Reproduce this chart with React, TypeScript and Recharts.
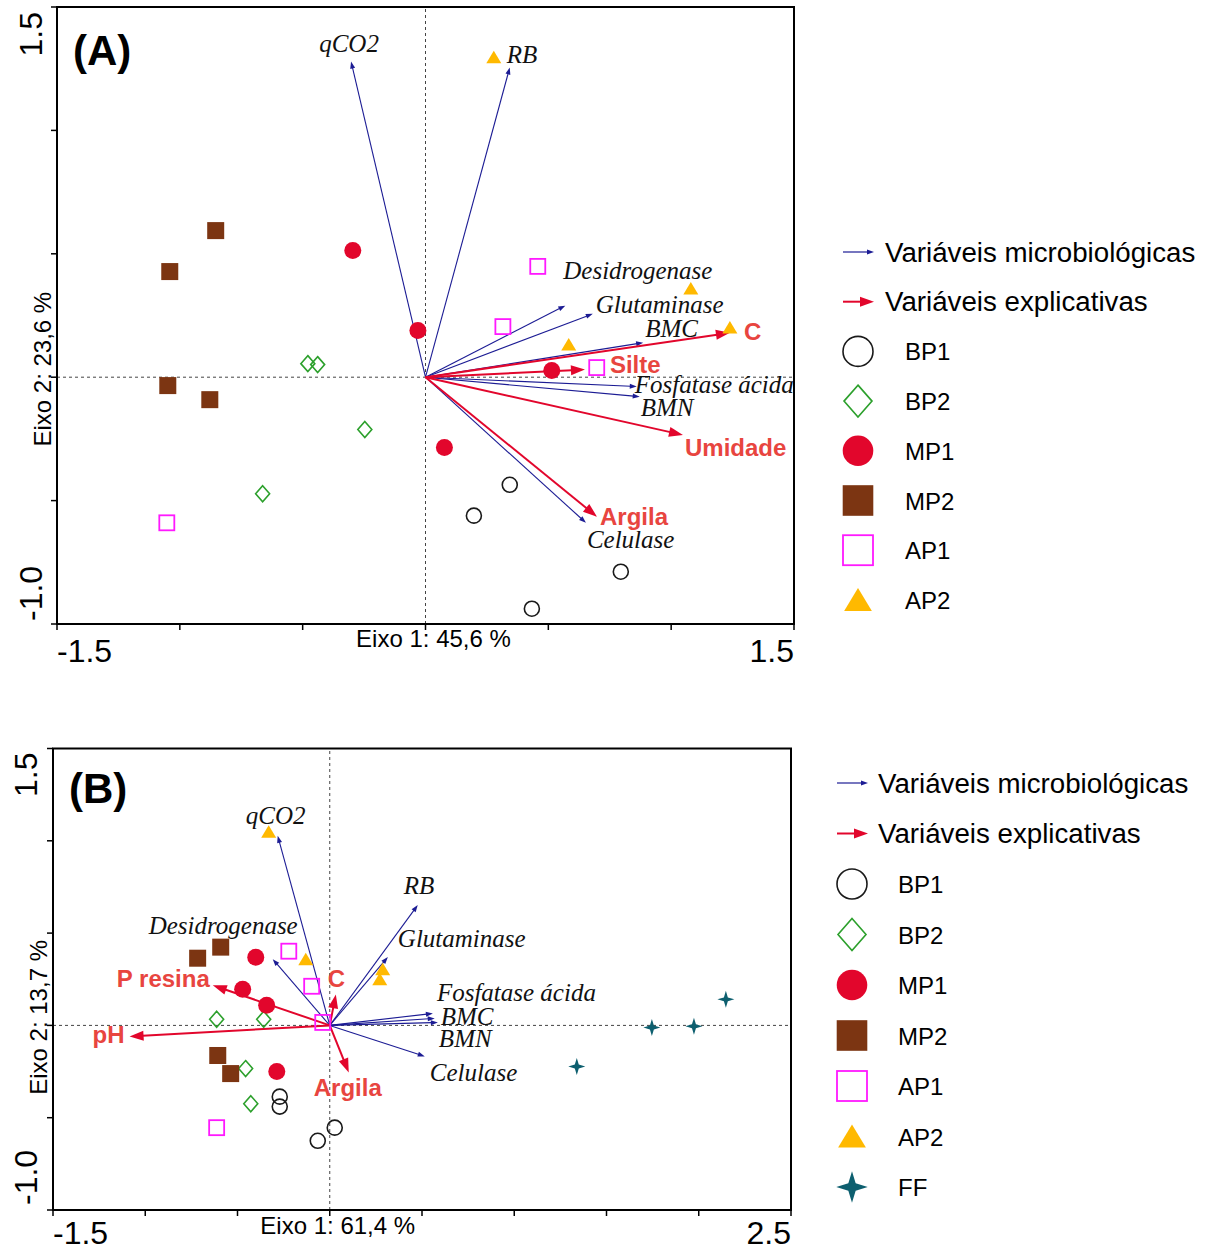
import React from 'react';
import { ScatterChart, Scatter, XAxis, YAxis, ReferenceLine, ReferenceArea, Label } from 'recharts';

const SANS = "'Liberation Sans', Arial, Helvetica, sans-serif";
const SERIF = "'Liberation Serif', 'Times New Roman', serif";
const NAVY = '#1c1c94';
const RED = '#e2062c';
const RED_TEXT = '#e8453f';
const BROWN = '#7c3512';
const MAGENTA = '#ff19ff';
const GOLD = '#ffb900';
const GREEN = '#2ca02c';
const TEAL = '#0d5f6f';
const BLACK = '#1a1a1a';

// ---------------- Panel A data ----------------
const A_BP1 = [{ x: 0.343, y: -0.436 }, { x: 0.197, y: -0.561 }, { x: 0.795, y: -0.788 }, { x: 0.433, y: -0.938 }];
const A_BP2 = [{ x: -0.479, y: 0.055 }, { x: -0.439, y: 0.051 }, { x: -0.247, y: -0.212 }, { x: -0.663, y: -0.472 }];
const A_MP1 = [{ x: -0.296, y: 0.513 }, { x: -0.031, y: 0.189 }, { x: 0.514, y: 0.027 }, { x: 0.077, y: -0.285 }];
const A_MP2 = [{ x: -0.854, y: 0.594 }, { x: -1.041, y: 0.428 }, { x: -1.049, y: -0.034 }, { x: -0.878, y: -0.091 }];
const A_AP1 = [{ x: 0.457, y: 0.449 }, { x: 0.315, y: 0.205 }, { x: 0.697, y: 0.039 }, { x: -1.053, y: -0.59 }];
const A_AP2 = [{ x: 0.278, y: 1.296 }, { x: 1.08, y: 0.359 }, { x: 1.239, y: 0.201 }, { x: 0.583, y: 0.132 }];

const A_MICRO = [
  { name: 'qCO2', x: -0.303, y: 1.279 },
  { name: 'RB', x: 0.343, y: 1.255 },
  { name: 'Desidrogenase', x: 0.569, y: 0.29 },
  { name: 'Glutaminase', x: 0.681, y: 0.257 },
  { name: 'BMC', x: 0.886, y: 0.14 },
  { name: 'Fosfatase ácida', x: 0.86, y: -0.038 },
  { name: 'BMN', x: 0.872, y: -0.079 },
  { name: 'Celulase', x: 0.653, y: -0.59 },
];
const A_EXPL = [
  { name: 'C', x: 1.239, y: 0.18 },
  { name: 'Silte', x: 0.649, y: 0.031 },
  { name: 'Umidade', x: 1.048, y: -0.234 },
  { name: 'Argila', x: 0.698, y: -0.565 },
];

// ---------------- Panel B data ----------------
const B_BP1 = [{ x: -0.271, y: -0.386 }, { x: -0.271, y: -0.44 }, { x: -0.065, y: -0.625 }, { x: 0.027, y: -0.554 }];
const B_BP2 = [{ x: -0.613, y: 0.033 }, { x: -0.358, y: 0.033 }, { x: -0.456, y: -0.234 }, { x: -0.428, y: -0.424 }];
const B_MP1 = [{ x: -0.401, y: 0.369 }, { x: -0.472, y: 0.196 }, { x: -0.342, y: 0.109 }, { x: -0.287, y: -0.25 }];
const B_MP2 = [{ x: -0.716, y: 0.364 }, { x: -0.591, y: 0.424 }, { x: -0.607, y: -0.163 }, { x: -0.537, y: -0.261 }];
const B_AP1 = [{ x: -0.222, y: 0.402 }, { x: -0.098, y: 0.212 }, { x: -0.038, y: 0.016 }, { x: -0.613, y: -0.554 }];
const B_AP2 = [{ x: -0.331, y: 1.049 }, { x: -0.13, y: 0.359 }, { x: 0.287, y: 0.304 }, { x: 0.271, y: 0.25 }];
const B_FF = [{ x: 1.339, y: -0.223 }, { x: 1.746, y: -0.011 }, { x: 1.974, y: -0.005 }, { x: 2.147, y: 0.141 }];

const B_MICRO = [
  { name: 'qCO2', x: -0.282, y: 1.027 },
  { name: 'RB', x: 0.477, y: 0.652 },
  { name: 'Desidrogenase', x: -0.309, y: 0.359 },
  { name: 'Glutaminase', x: 0.315, y: 0.37 },
  { name: 'Fosfatase ácida', x: 0.559, y: 0.065 },
  { name: 'BMC', x: 0.569, y: 0.038 },
  { name: 'BMN', x: 0.586, y: 0.016 },
  { name: 'Celulase', x: 0.515, y: -0.168 },
];
const B_EXPL = [
  { name: 'pH', x: -1.085, y: -0.06 },
  { name: 'P resina', x: -0.634, y: 0.217 },
  { name: 'C', x: 0.033, y: 0.168 },
  { name: 'Argila', x: 0.103, y: -0.255 },
];

// axis ticks
const A_XTICKS = [-1.5, -1, -0.5, 0, 0.5, 1, 1.5];
const A_YTICKS = [-1, -0.5, 0, 0.5, 1, 1.5];
const B_XTICKS = [-1.5, -1, -0.5, 0, 0.5, 1, 1.5, 2, 2.5];
const B_YTICKS = [-1, -0.5, 0, 0.5, 1, 1.5];

const LEGEND_A = ['BP1', 'BP2', 'MP1', 'MP2', 'AP1', 'AP2'];
const LEGEND_B = ['BP1', 'BP2', 'MP1', 'MP2', 'AP1', 'AP2', 'FF'];

// ---------------- label placement (pixel offsets from arrow tips) ----------------
type Lab = { dx: number; dy: number; anchor?: 'start' | 'middle' | 'end' };
const A_MICRO_LAB: Record<string, Lab> = {
  qCO2: { dx: -2, dy: -10, anchor: 'middle' },
  RB: { dx: -3, dy: -4 },
  Desidrogenase: { dx: -2, dy: -27 },
  Glutaminase: { dx: 3, dy: -1 },
  BMC: { dx: 2, dy: -6 },
  'Fosfatase ácida': { dx: -2, dy: 6 },
  BMN: { dx: 1, dy: 19 },
  Celulase: { dx: 1, dy: 25 },
};
const A_EXPL_LAB: Record<string, Lab> = {
  C: { dx: 14, dy: 7 },
  Silte: { dx: 25, dy: 3 },
  Umidade: { dx: 2, dy: 21 },
  Argila: { dx: 3, dy: 8 },
};
const B_MICRO_LAB: Record<string, Lab> = {
  qCO2: { dx: -2, dy: -12, anchor: 'middle' },
  RB: { dx: -14, dy: -11 },
  Desidrogenase: { dx: 25, dy: -25, anchor: 'end' },
  Glutaminase: { dx: 10, dy: -10 },
  'Fosfatase ácida': { dx: 4, dy: -12 },
  BMC: { dx: 6, dy: 7 },
  BMN: { dx: 1, dy: 25 },
  Celulase: { dx: 5, dy: 25 },
};
const B_EXPL_LAB: Record<string, Lab> = {
  pH: { dx: -5, dy: 7, anchor: 'end' },
  'P resina': { dx: -3, dy: 2, anchor: 'end' },
  C: { dx: -8, dy: -7 },
  Argila: { dx: -1, dy: 24, anchor: 'middle' },
};

const LEGEND_SCALE: Record<string, number> = { BP1: 2, BP2: 2, MP1: 1.8, MP2: 1.8, AP1: 2, AP2: 1.85, FF: 1.85 };

// ---------------- marker shapes ----------------
const starPts = (cx: number, cy: number, R: number, r: number) => {
  const pts: string[] = [];
  for (let i = 0; i < 8; i++) {
    const a = -Math.PI / 2 + (i * Math.PI) / 4;
    const rad = i % 2 === 0 ? R : r;
    pts.push(`${cx + rad * Math.cos(a)},${cy + rad * Math.sin(a)}`);
  }
  return pts.join(' ');
};

const drawMarker = (kind: string, cx: number, cy: number, s: number) => {
  switch (kind) {
    case 'BP1':
      return <circle cx={cx} cy={cy} r={7.5 * s} fill="none" stroke={BLACK} strokeWidth={1.6} />;
    case 'BP2':
      return (
        <polygon
          points={`${cx},${cy - 8 * s} ${cx + 7 * s},${cy} ${cx},${cy + 8 * s} ${cx - 7 * s},${cy}`}
          fill="none"
          stroke={GREEN}
          strokeWidth={1.6}
        />
      );
    case 'MP1':
      return <circle cx={cx} cy={cy} r={8.5 * s} fill={RED} />;
    case 'MP2':
      return <rect x={cx - 8.5 * s} y={cy - 8.5 * s} width={17 * s} height={17 * s} fill={BROWN} />;
    case 'AP1':
      return (
        <rect x={cx - 7.5 * s} y={cy - 7.5 * s} width={15 * s} height={15 * s} fill="none" stroke={MAGENTA} strokeWidth={1.8} />
      );
    case 'AP2':
      return <polygon points={`${cx},${cy - 6.5 * s} ${cx + 7.5 * s},${cy + 6 * s} ${cx - 7.5 * s},${cy + 6 * s}`} fill={GOLD} />;
    case 'FF':
      return <polygon points={starPts(cx, cy, 8.5 * s, 2.8 * s)} fill={TEAL} />;
    default:
      return <g />;
  }
};

const markerShape = (kind: string) => (p: any) => {
  if (typeof p.cx !== 'number' || typeof p.cy !== 'number') return <g />;
  return drawMarker(kind, p.cx, p.cy, 1);
};

// ---------------- arrow shape ----------------
function ArrowShape(props: any) {
  const { x1, y1, x2, y2, color, lw, hl, hw, text, lab, bold } = props;
  if ([x1, y1, x2, y2].some((v) => typeof v !== 'number' || isNaN(v))) return <g />;
  const dx = x2 - x1;
  const dy = y2 - y1;
  const len = Math.hypot(dx, dy) || 1;
  const ux = dx / len;
  const uy = dy / len;
  const bx = x2 - ux * hl;
  const by = y2 - uy * hl;
  const nx = (-uy * hw) / 2;
  const ny = (ux * hw) / 2;
  return (
    <g>
      <line x1={x1} y1={y1} x2={bx + ux} y2={by + uy} stroke={color} strokeWidth={lw} />
      <polygon points={`${x2},${y2} ${bx + nx},${by + ny} ${bx - nx},${by - ny}`} fill={color} />
      {text ? (
        <text
          x={x2 + lab.dx}
          y={y2 + lab.dy}
          textAnchor={lab.anchor || 'start'}
          fontFamily={bold ? SANS : SERIF}
          fontStyle={bold ? 'normal' : 'italic'}
          fontWeight={bold ? 'bold' : 'normal'}
          fontSize={bold ? 24 : 25}
          fill={bold ? RED_TEXT : '#111'}
        >
          {text}
        </text>
      ) : null}
    </g>
  );
}

// ---------------- ticks ----------------
const xTick = (lo: number, hi: number, dy: number) => (p: any) => {
  const v = p.payload?.value;
  if (v !== lo && v !== hi) return <g />;
  return (
    <text x={p.x} y={p.y + dy} textAnchor={v === lo ? 'start' : 'end'} fontFamily={SANS} fontSize={32} fill="#000">
      {Number(v).toFixed(1)}
    </text>
  );
};

const yTick = (lo: number, hi: number, dx: number, hiShift: number, loShift: number) => (p: any) => {
  const v = p.payload?.value;
  if (v !== lo && v !== hi) return <g />;
  const yy = p.y + (v === hi ? hiShift : loShift);
  return (
    <text
      transform={`translate(${p.x + dx},${yy}) rotate(-90)`}
      x={0}
      y={0}
      textAnchor={v === hi ? 'end' : 'start'}
      fontFamily={SANS}
      fontSize={32}
      fill="#000"
    >
      {Number(v).toFixed(1)}
    </text>
  );
};

type PanelProps = {
  width: number;
  height: number;
  margin: { top: number; right: number; bottom: number; left: number };
  yAxisWidth: number;
  xAxisHeight: number;
  xDomain: [number, number];
  yDomain: [number, number];
  xTicks: number[];
  yTicks: number[];
  groups: { kind: string; data: { x: number; y: number }[] }[];
  micro: { name: string; x: number; y: number }[];
  microLab: Record<string, Lab>;
  expl: { name: string; x: number; y: number }[];
  explLab: Record<string, Lab>;
  xTitle: string;
  yTitle: string;
  xTitleDy: number;
  yTitleX: number;
  xTickDy: number;
  yTickDx: number;
  hiShift: number;
  loShift: number;
};

function Panel(pp: PanelProps) {
  const [x0, x1] = pp.xDomain;
  const [y0, y1] = pp.yDomain;
  return (
    <ScatterChart width={pp.width} height={pp.height} margin={pp.margin}>
      <XAxis
        type="number"
        dataKey="x"
        domain={pp.xDomain}
        ticks={pp.xTicks}
        interval={0}
        allowDataOverflow
        height={pp.xAxisHeight}
        tickSize={6}
        axisLine={{ stroke: '#000', strokeWidth: 2 }}
        tickLine={{ stroke: '#000', strokeWidth: 1.5 }}
        tick={xTick(x0, x1, pp.xTickDy)}
      >
        <Label
          content={(lp: any) => {
            const vb = lp.viewBox;
            if (!vb) return null;
            const zx = vb.x + (vb.width * (0 - x0)) / (x1 - x0);
            return (
              <text x={zx + 8} y={vb.y + pp.xTitleDy} textAnchor="middle" fontFamily={SANS} fontSize={24} fill="#000">
                {pp.xTitle}
              </text>
            );
          }}
        />
      </XAxis>
      <YAxis
        type="number"
        dataKey="y"
        domain={pp.yDomain}
        ticks={pp.yTicks}
        interval={0}
        allowDataOverflow
        width={pp.yAxisWidth}
        tickSize={6}
        axisLine={{ stroke: '#000', strokeWidth: 2 }}
        tickLine={{ stroke: '#000', strokeWidth: 1.5 }}
        tick={yTick(y0, y1, pp.yTickDx, pp.hiShift, pp.loShift)}
      >
        <Label
          content={(lp: any) => {
            const vb = lp.viewBox;
            if (!vb) return null;
            const zy = vb.y + (vb.height * (y1 - 0)) / (y1 - y0);
            return (
              <text
                transform={`translate(${pp.yTitleX},${zy - 8}) rotate(-90)`}
                x={0}
                y={0}
                textAnchor="middle"
                fontFamily={SANS}
                fontSize={24}
                fill="#000"
              >
                {pp.yTitle}
              </text>
            );
          }}
        />
      </YAxis>
      <ReferenceArea x1={x0} x2={x1} y1={y0} y2={y1} fill="none" fillOpacity={0} stroke="#000" strokeWidth={2} ifOverflow="visible" />
      <ReferenceLine x={0} stroke="#444" strokeDasharray="3 3" strokeWidth={1} />
      <ReferenceLine y={0} stroke="#444" strokeDasharray="3 3" strokeWidth={1} />
      {pp.micro.map((v) => (
        <ReferenceLine
          key={'m' + v.name}
          segment={[{ x: 0, y: 0 }, { x: v.x, y: v.y }]}
          ifOverflow="visible"
          stroke={NAVY}
          shape={(p: any) => (
            <ArrowShape {...p} color={NAVY} lw={1.1} hl={7} hw={5} text={v.name} lab={pp.microLab[v.name]} bold={false} />
          )}
        />
      ))}
      {pp.expl.map((v) => (
        <ReferenceLine
          key={'e' + v.name}
          segment={[{ x: 0, y: 0 }, { x: v.x, y: v.y }]}
          ifOverflow="visible"
          stroke={RED}
          shape={(p: any) => (
            <ArrowShape {...p} color={RED} lw={2} hl={14} hw={10} text={v.name} lab={pp.explLab[v.name]} bold />
          )}
        />
      ))}
      {pp.groups.map((g) => (
        <Scatter key={g.kind} name={g.kind} data={g.data} shape={markerShape(g.kind)} isAnimationActive={false} />
      ))}
    </ScatterChart>
  );
}

function LegendBlock(props: { items: string[]; y0: number; step: number; arrowX: number; symX: number; textX: number; labX: number }) {
  const { items, y0, step, arrowX, symX, textX, labX } = props;
  const rows: React.ReactNode[] = [];
  const ya = y0;
  const yb = y0 + step;
  rows.push(
    <g key="micro">
      <line x1={arrowX} y1={ya} x2={arrowX + 25} y2={ya} stroke={NAVY} strokeWidth={1.2} />
      <polygon points={`${arrowX + 31},${ya} ${arrowX + 24},${ya - 2.5} ${arrowX + 24},${ya + 2.5}`} fill={NAVY} />
      <text x={textX} y={ya + 9.5} fontFamily={SANS} fontSize={27.7} fill="#000">
        Variáveis microbiológicas
      </text>
    </g>
  );
  rows.push(
    <g key="expl">
      <line x1={arrowX} y1={yb} x2={arrowX + 18} y2={yb} stroke={RED} strokeWidth={2} />
      <polygon points={`${arrowX + 31},${yb} ${arrowX + 17},${yb - 5} ${arrowX + 17},${yb + 5}`} fill={RED} />
      <text x={textX} y={yb + 9.5} fontFamily={SANS} fontSize={27.7} fill="#000">
        Variáveis explicativas
      </text>
    </g>
  );
  items.forEach((it, i) => {
    const y = y0 + (i + 2) * step;
    rows.push(
      <g key={it}>
        {drawMarker(it, symX, y, LEGEND_SCALE[it] || 2)}
        <text x={labX} y={y + 9} fontFamily={SANS} fontSize={24} fill="#000">
          {it}
        </text>
      </g>
    );
  });
  return <g>{rows}</g>;
}

export default function App() {
  return (
    <div style={{ position: 'absolute', left: 0, top: 0, width: 1208, height: 1252, background: '#fff', overflow: 'hidden' }}>
      <div style={{ position: 'absolute', left: 0, top: 0 }}>
        <Panel
          width={810}
          height={680}
          margin={{ top: 7, right: 16, bottom: 0, left: 0 }}
          yAxisWidth={57}
          xAxisHeight={56}
          xDomain={[-1.5, 1.5]}
          yDomain={[-1, 1.5]}
          xTicks={A_XTICKS}
          yTicks={A_YTICKS}
          groups={[
            { kind: 'BP1', data: A_BP1 },
            { kind: 'BP2', data: A_BP2 },
            { kind: 'MP1', data: A_MP1 },
            { kind: 'MP2', data: A_MP2 },
            { kind: 'AP1', data: A_AP1 },
            { kind: 'AP2', data: A_AP2 },
          ]}
          micro={A_MICRO}
          microLab={A_MICRO_LAB}
          expl={A_EXPL}
          explLab={A_EXPL_LAB}
          xTitle="Eixo 1: 45,6 %"
          yTitle="Eixo 2: 23,6 %"
          xTitleDy={23}
          yTitleX={51}
          xTickDy={30}
          yTickDx={-7}
          hiShift={5}
          loShift={-3}
        />
      </div>
      <div style={{ position: 'absolute', left: 0, top: 740 }}>
        <Panel
          width={810}
          height={512}
          margin={{ top: 8.5, right: 19, bottom: 0, left: 0 }}
          yAxisWidth={53}
          xAxisHeight={42}
          xDomain={[-1.5, 2.5]}
          yDomain={[-1, 1.5]}
          xTicks={B_XTICKS}
          yTicks={B_YTICKS}
          groups={[
            { kind: 'BP1', data: B_BP1 },
            { kind: 'BP2', data: B_BP2 },
            { kind: 'MP1', data: B_MP1 },
            { kind: 'MP2', data: B_MP2 },
            { kind: 'AP1', data: B_AP1 },
            { kind: 'AP2', data: B_AP2 },
            { kind: 'FF', data: B_FF },
          ]}
          micro={B_MICRO}
          microLab={B_MICRO_LAB}
          expl={B_EXPL}
          explLab={B_EXPL_LAB}
          xTitle="Eixo 1: 61,4 %"
          yTitle="Eixo 2: 13,7 %"
          xTitleDy={24}
          yTitleX={47}
          xTickDy={26}
          yTickDx={-8}
          hiShift={4}
          loShift={-5}
        />
      </div>
      <svg
        width={1208}
        height={1252}
        style={{ position: 'absolute', left: 0, top: 0, pointerEvents: 'none' }}
      >
        <text x={73} y={65} fontFamily={SANS} fontWeight="bold" fontSize={42} fill="#000">
          (A)
        </text>
        <text x={69} y={803} fontFamily={SANS} fontWeight="bold" fontSize={42} fill="#000">
          (B)
        </text>
        <LegendBlock items={LEGEND_A} y0={252} step={49.7} arrowX={843} symX={858} textX={885} labX={905} />
        <LegendBlock items={LEGEND_B} y0={783} step={50.5} arrowX={837} symX={852} textX={878} labX={898} />
      </svg>
    </div>
  );
}
